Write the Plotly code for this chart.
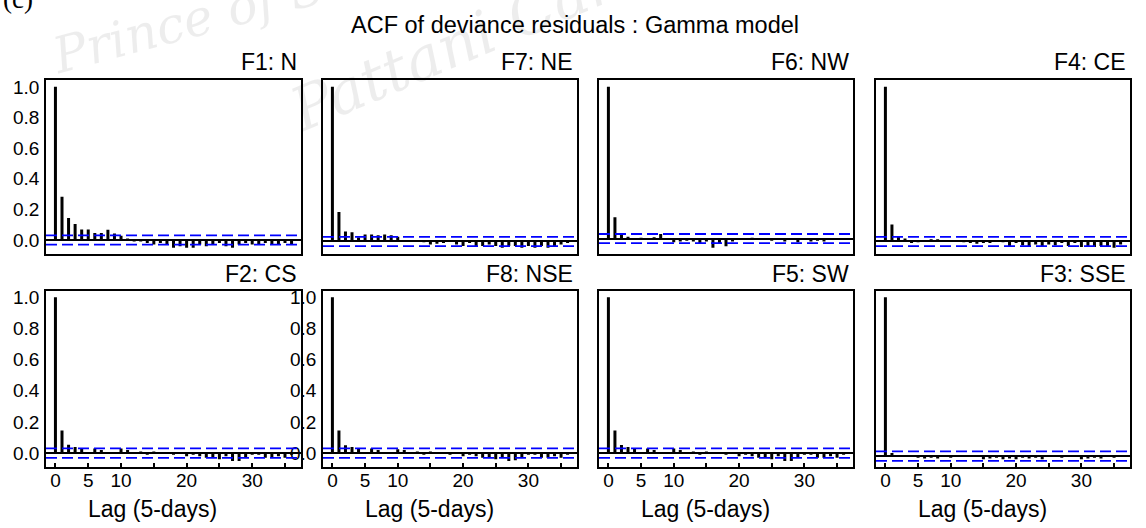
import plotly.graph_objects as go

# ---------------------------------------------------------------
# ACF of deviance residuals (Gamma model), lags 0..36, per zone
# ---------------------------------------------------------------
lags = list(range(37))
clim = 0.03  # approximate 95% significance band

panel_titles = ["F1: N", "F7: NE", "F6: NW", "F4: CE",
                "F2: CS", "F8: NSE", "F5: SW", "F3: SSE"]

acf_f1 = [1.0, 0.283, 0.143, 0.104, 0.069, 0.069, 0.045, 0.045, 0.067, 0.043,
          0.028, 0.010, -0.010, -0.010, -0.020, -0.030, -0.020, -0.030, -0.050, -0.040,
          -0.050, -0.050, -0.030, -0.040, -0.030, -0.020, -0.040, -0.050, -0.030, -0.020,
          -0.030, -0.030, -0.020, -0.030, -0.030, -0.020, -0.030]
acf_f7 = [1.0, 0.190, 0.065, 0.060, 0.025, 0.045, 0.045, 0.040, 0.045, 0.040,
          0.030, 0.010, 0.000, 0.005, -0.005, -0.020, -0.015, -0.010, 0.000, -0.020,
          -0.030, -0.010, -0.030, -0.030, -0.020, -0.030, -0.040, -0.030, -0.030, -0.040,
          -0.030, -0.040, -0.030, -0.040, -0.030, -0.020, -0.010]
acf_f6 = [1.0, 0.140, 0.025, 0.012, -0.010, 0.005, -0.010, 0.008, 0.030, -0.010,
          -0.025, -0.020, -0.015, -0.020, -0.030, -0.020, -0.060, -0.030, -0.050, -0.020,
          -0.010, -0.005, 0.005, -0.010, -0.005, -0.015, -0.010, -0.020, -0.010, -0.025,
          -0.010, -0.020, -0.015, -0.020, -0.005, -0.010, -0.005]
acf_f4 = [1.0, 0.110, 0.030, 0.020, -0.010, -0.005, 0.010, 0.015, 0.015, 0.010,
          0.005, 0.000, -0.005, -0.010, -0.015, -0.010, -0.010, 0.010, -0.005, -0.030,
          -0.010, -0.025, -0.030, -0.020, -0.030, -0.020, -0.025, -0.010, -0.030, -0.010,
          -0.035, -0.030, -0.035, -0.030, -0.035, -0.040, -0.020]
acf_f2 = [1.0, 0.145, 0.054, 0.040, 0.030, 0.000, 0.030, 0.020, 0.005, -0.005,
          0.030, 0.020, -0.005, 0.010, -0.010, 0.010, 0.005, -0.005, -0.010, -0.005,
          -0.020, -0.010, -0.020, -0.030, -0.030, -0.040, -0.020, -0.050, -0.050, -0.030,
          -0.010, -0.010, -0.030, -0.030, -0.020, -0.030, -0.010]
acf_f8 = [1.0, 0.145, 0.050, 0.040, 0.030, 0.000, 0.030, 0.020, 0.005, -0.005,
          0.025, 0.020, -0.005, 0.010, -0.010, 0.010, 0.005, -0.005, -0.010, -0.005,
          -0.020, -0.010, -0.020, -0.030, -0.030, -0.040, -0.025, -0.050, -0.045, -0.030,
          -0.010, -0.010, -0.030, -0.030, -0.020, -0.030, -0.010]
acf_f5 = [1.0, 0.145, 0.052, 0.040, 0.030, 0.000, 0.030, 0.020, 0.005, -0.005,
          0.030, 0.020, -0.005, 0.010, -0.010, 0.010, 0.005, -0.005, -0.010, -0.005,
          -0.020, -0.010, -0.020, -0.030, -0.030, -0.040, -0.020, -0.050, -0.050, -0.030,
          -0.010, -0.010, -0.030, -0.030, -0.020, -0.030, -0.010]
acf_f3 = [1.0, 0.020, 0.000, -0.005, 0.000, -0.010, -0.015, -0.010, -0.015, -0.005,
          -0.010, 0.000, 0.005, -0.005, 0.005, -0.020, -0.015, -0.010, -0.020, -0.015,
          -0.020, -0.010, -0.015, -0.010, -0.020, 0.000, -0.005, -0.010, 0.000, -0.005,
          -0.020, -0.015, -0.010, -0.015, -0.005, -0.010, -0.005]

panel_acf = [acf_f1, acf_f7, acf_f6, acf_f4, acf_f2, acf_f8, acf_f5, acf_f3]

x_tickvals = [0, 5, 10, 15, 20, 25, 30, 35]
x_ticktext = ["0", "5", "10", "", "20", "", "30", ""]
y_tickvals = [0.0, 0.2, 0.4, 0.6, 0.8, 1.0]
y_ticktext = ["0.0", "0.2", "0.4", "0.6", "0.8", "1.0"]

# ---------------------------------------------------------------
# page geometry (pixels)
# ---------------------------------------------------------------
W, H = 1146, 528
col_px = [(46, 301), (323, 577), (599, 853), (876, 1130)]
row_px = [(77, 252), (289, 467)]
ylabel_panels = {0, 4, 5}  # panels that carry y tick labels
FONT = "Liberation Sans, Arial, sans-serif"


def px_x(p):
    return p / W


def px_y(p):
    return 1 - p / H


fig = go.Figure()
layout = dict(
    width=W, height=H,
    margin=dict(l=0, r=0, t=0, b=0),
    paper_bgcolor="white", plot_bgcolor="white",
    showlegend=False,
    font=dict(family=FONT, color="black"),
)
shapes = []
annotations = []

x_lo, x_hi = -0.04 * 36, 36 + 0.04 * 36

for i, (title, acf) in enumerate(zip(panel_titles, panel_acf)):
    r, c = divmod(i, 4)
    n = i + 1
    xa = "x" if n == 1 else f"x{n}"
    ya = "y" if n == 1 else f"y{n}"
    xkey = "xaxis" if n == 1 else f"xaxis{n}"
    ykey = "yaxis" if n == 1 else f"yaxis{n}"

    lo = min(min(acf), -clim)
    span = 1.0 - lo
    y_range = [lo - 0.04 * span, 1.0 + 0.04 * span]

    # vertical ACF spikes
    xs, ys = [], []
    for lag, v in zip(lags, acf):
        xs += [lag, lag, None]
        ys += [0, v, None]
    fig.add_trace(go.Scatter(x=xs, y=ys, mode="lines", xaxis=xa, yaxis=ya,
                             line=dict(color="black", width=3),
                             hoverinfo="skip"))

    bottom = r == 1
    layout[xkey] = dict(
        domain=[px_x(col_px[c][0]), px_x(col_px[c][1])],
        anchor=ya, range=[x_lo, x_hi],
        showgrid=False, zeroline=False,
        showline=True, mirror=True, linecolor="black", linewidth=1.5,
        tickmode="array", tickvals=x_tickvals,
        ticktext=x_ticktext if bottom else [""] * len(x_tickvals),
        ticks="inside" if bottom else "", ticklen=5, tickwidth=1.5,
        tickcolor="black", showticklabels=bottom,
        ticklabelstandoff=-5,
        tickfont=dict(size=19, family=FONT, color="black"),
    )
    layout[ykey] = dict(
        domain=[px_y(row_px[r][1]), px_y(row_px[r][0])],
        anchor=xa, range=y_range,
        showgrid=False, zeroline=True, zerolinecolor="black",
        zerolinewidth=1.5,
        showline=True, mirror=True, linecolor="black", linewidth=1.5,
        tickmode="array", tickvals=y_tickvals, ticktext=y_ticktext,
        ticks="", showticklabels=i in ylabel_panels,
        ticklabelstandoff=1,
        tickfont=dict(size=19, family=FONT, color="black"),
    )

    # significance band
    for yv in (clim, -clim):
        shapes.append(dict(type="line", xref=f"{xa} domain", yref=ya,
                           x0=0, x1=1, y0=yv, y1=yv,
                           line=dict(color="#0000ff", width=1.8,
                                     dash="11px,5px")))

    # panel title, right aligned above the frame
    annotations.append(dict(
        text=title, xref="paper", yref="paper",
        x=px_x(col_px[c][1] - 2), y=px_y(58 if r == 0 else 272),
        xanchor="right", yanchor="middle", showarrow=False,
        font=dict(size=23, family=FONT, color="black")))

    if bottom:
        mid = (col_px[c][0] + col_px[c][1]) / 2 - 21
        annotations.append(dict(
            text="Lag (5-days)", xref="paper", yref="paper",
            x=px_x(mid), y=px_y(509), xanchor="center", yanchor="middle",
            showarrow=False, font=dict(size=23, family=FONT, color="black")))

annotations.append(dict(
    text="ACF of deviance residuals : Gamma model", xref="paper", yref="paper",
    x=px_x(575), y=px_y(21), xanchor="center", yanchor="middle",
    showarrow=False, font=dict(size=23.5, family=FONT, color="black")))

annotations.append(dict(
    text="(c)", xref="paper", yref="paper", x=px_x(1), y=px_y(-5),
    xanchor="left", yanchor="middle", showarrow=False,
    font=dict(size=27, family="Liberation Serif, serif", color="black")))

# faint institutional watermark
annotations.append(dict(
    text="<i>Prince of Songkla University</i>", xref="paper", yref="paper",
    x=px_x(405), y=px_y(-41), xanchor="center", yanchor="middle",
    textangle=-15, showarrow=False,
    font=dict(size=50, family="DejaVu Serif, serif", color="rgba(0,0,0,0.07)")))
annotations.append(dict(
    text="<i>Pattani Campus</i>", xref="paper", yref="paper",
    x=px_x(515), y=px_y(15), xanchor="center", yanchor="middle",
    textangle=-23, showarrow=False,
    font=dict(size=60, family="DejaVu Serif, serif", color="rgba(0,0,0,0.07)")))

layout["shapes"] = shapes
layout["annotations"] = annotations
fig.update_layout(**layout)

fig.write_html("out.html")
